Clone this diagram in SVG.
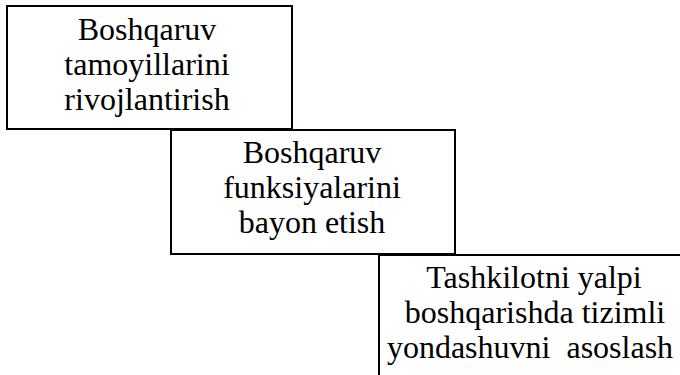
<svg xmlns="http://www.w3.org/2000/svg" width="680" height="375" viewBox="0 0 680 375">
  <style>
    .box { fill: #ffffff; stroke: #000000; stroke-width: 2; }
    .lbl { font-family: 'Liberation Serif', 'Times New Roman', serif; font-size: 32px; fill: #000000; text-anchor: middle; }
  </style>
  <rect x="0" y="0" width="680" height="375" fill="#ffffff"/>
  <g id="connectors"></g>
  <g id="node1">
    <rect class="box" x="7" y="6" width="285" height="123"/>
    <text class="lbl" x="147" y="39.5">Boshqaruv</text>
    <text class="lbl" x="147" y="74.5">tamoyillarini</text>
    <text class="lbl" x="147" y="109.5">rivojlantirish</text>
  </g>
  <g id="node2">
    <rect class="box" x="171" y="130" width="284" height="124"/>
    <text class="lbl" x="312" y="163">Boshqaruv</text>
    <text class="lbl" x="312" y="198">funksiyalarini</text>
    <text class="lbl" x="312" y="233">bayon etish</text>
  </g>
  <g id="node3">
    <rect class="box" x="379" y="255" width="320" height="130"/>
    <text class="lbl" x="534" y="288">Tashkilotni yalpi</text>
    <text class="lbl" x="535" y="323">boshqarishda tizimli</text>
    <text class="lbl" x="530" y="358" word-spacing="8">yondashuvni asoslash</text>
  </g>
</svg>
